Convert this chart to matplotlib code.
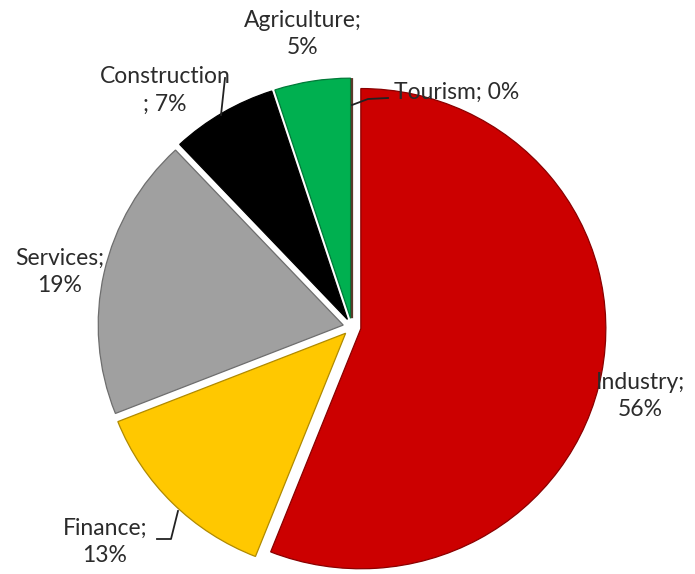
import numpy as np
import matplotlib.pyplot as plt

# data
sectors = ['Industry', 'Finance', 'Services', 'Construction', 'Agriculture', 'Tourism']
shares = [56, 13, 19, 7, 5, 0]
colors = ['#CC0000', '#FFC800', '#A0A0A0', '#000000', '#00B050', '#CC0000']
edges = ['#8a0000', '#b08a00', '#6e6e6e', '#000000', '#007a38', '#5a3a2a']
label_text = ['Industry;\n56%', 'Finance;\n13%', 'Services;\n19%',
              'Construction\n; 7%', 'Agriculture;\n5%', 'Tourism; 0%']

W, H = 695, 574
YS = 0.98  # slight vertical squeeze of the pie
fig = plt.figure(figsize=(W / 100, H / 100), dpi=100)
ax = fig.add_axes([0, 0, 1, 1])

# pixel position helper (y measured from top)
def P(x, y):
    return (x, (H - y) / YS)

# explode is in data units (pixels here)
wedges, _ = ax.pie(shares, colors=colors, startangle=90, counterclock=False,
                   radius=245, center=P(352, 327), explode=[9] * 6,
                   frame=True)
ax.set_xlim(0, W)
ax.set_ylim(0, H / YS)
ax.set_aspect('auto')
ax.axis('off')
for w, ec in zip(wedges, edges):
    w.set_edgecolor(ec)
    w.set_linewidth(0.9)
wedges[-1].set_linewidth(1.6)

# labels
label_pos = [(640, 396), (105, 542), (60, 272), (165, 90), (303, 34), (457, 92)]
for txt, (x, y) in zip(label_text, label_pos):
    ax.text(*P(x, y), txt, ha='center', va='center', fontsize=16.5,
            family='Lato', color='#2b2b2b', linespacing=1.4)

# leader lines
ax.plot(*zip(P(352, 105), P(368, 99), P(388, 98)), color='#222222', lw=1.3)
ax.plot(*zip(P(225, 78), P(221, 115)), color='#222222', lw=1.3)
ax.plot(*zip(P(157, 539), P(171, 539), P(178, 511)), color='#222222', lw=1.3)

fig.savefig('out.png', dpi=100)
